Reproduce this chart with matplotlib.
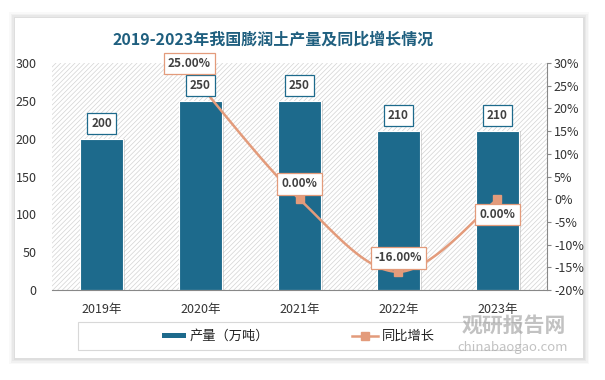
import matplotlib
matplotlib.use("Agg")
import matplotlib.pyplot as plt
import numpy as np
from matplotlib.patches import Rectangle
from matplotlib.lines import Line2D

plt.rcParams['font.family'] = ['Noto Sans CJK SC', 'DejaVu Sans']
plt.rcParams['hatch.linewidth'] = 0.5

years = ["2019年", "2020年", "2021年", "2022年", "2023年"]
output = [200, 250, 250, 210, 210]
growth = [None, 25.0, 0.0, -16.0, 0.0]
growth_labels = [None, "25.00%", "0.00%", "-16.00%", "0.00%"]
left_ticks = [0, 50, 100, 150, 200, 250, 300]
right_ticks = [-20, -15, -10, -5, 0, 5, 10, 15, 20, 25, 30]

BAR = "#1D6A8C"
LINE = "#E39B7B"
W, H = 605, 380

fig = plt.figure(figsize=(6.05, 3.8), dpi=100)
fig.patch.set_facecolor("white")

# card with soft shadow
for i, a in enumerate([0.025, 0.03, 0.035, 0.04]):
    d = 6 - i * 1.5
    fig.patches.append(Rectangle(((15 - d) / W, 1 - (358 + d) / H), (568 + 2 * d) / W, (340 + 2 * d) / H,
                                 transform=fig.transFigure, facecolor="black", alpha=a, edgecolor="none",
                                 zorder=-3))
fig.patches.append(Rectangle((15 / W, 1 - 358 / H), 568 / W, 340 / H, transform=fig.transFigure,
                             facecolor="white", edgecolor="none", zorder=-2))

ax = fig.add_axes([52 / W, 1 - 290 / H, (547 - 52) / W, (290 - 63) / H])
ax.set_facecolor("none")
x = np.arange(len(years))
ax.set_xlim(-0.5, len(years) - 0.5)
ax.set_ylim(0, 300)

# hatched background
ax.add_patch(Rectangle((0, 0), 1, 1, transform=ax.transAxes, facecolor="white",
                       edgecolor="#D3D3D3", hatch="///////", linewidth=0, zorder=0))

# bar shadow + bars
ax.bar(x + 0.02, output, width=0.43, color="#B0B0B0", alpha=0.5, zorder=1)
ax.bar(x, output, width=0.43, color=BAR, edgecolor="white", linewidth=0.8, zorder=2)

ax.set_yticks(left_ticks)
ax.set_xticks(x)
ax.set_xticklabels(years, fontsize=9, color="#333333")
ax.tick_params(axis="x", length=0, pad=9)
ax.tick_params(axis="y", length=0, labelsize=9, colors="#333333", pad=11)
for s in ["top", "right", "left"]:
    ax.spines[s].set_visible(False)
ax.spines["bottom"].set_color("#888888")

ax2 = ax.twinx()
ax2.set_ylim(-20, 30)
ax2.set_yticks(right_ticks)
ax2.set_yticklabels([f"{t}%" for t in right_ticks])
ax2.tick_params(axis="y", length=3, labelsize=9, colors="#333333", color="#888888", pad=2)
for s in ["top", "left", "bottom"]:
    ax2.spines[s].set_visible(False)
ax2.spines["right"].set_color("#888888")

# smooth growth line (Catmull-Rom through the data points)
gx = np.array([xi for xi, g in zip(x, growth) if g is not None], dtype=float)
gy = np.array([g for g in growth if g is not None], dtype=float)
px = np.concatenate([[gx[0]], gx, [gx[-1]]])
py = np.concatenate([[gy[0]], gy, [gy[-1]]])
sx, sy = [], []
t = np.linspace(0, 1, 40)
for i in range(1, len(px) - 2):
    p0, p1, p2, p3 = [np.array([px[j], py[j]]) for j in (i - 1, i, i + 1, i + 2)]
    c1 = p1 + (p2 - p0) / 6
    c2 = p2 - (p3 - p1) / 6
    for tt in t:
        b = (1 - tt) ** 3 * p1 + 3 * (1 - tt) ** 2 * tt * c1 + 3 * (1 - tt) * tt ** 2 * c2 + tt ** 3 * p2
        sx.append(b[0]); sy.append(b[1])
ax2.plot(sx, sy, color=LINE, lw=1.8, zorder=3)
ax2.plot(gx, gy, ls="none", marker="s", ms=6, color=LINE, zorder=4)

# bar value labels (drawn on the top axes so they sit above the line)
for xi, v in zip(x, output):
    ax2.annotate(str(v), (xi, v), xycoords=ax.transData, xytext=(0, 11), textcoords="offset points",
                 ha="center", va="center", fontsize=8.5, fontweight="bold", color="#404040", zorder=6,
                 bbox=dict(boxstyle="square,pad=0.35", fc="white", ec=BAR, lw=0.9))

offsets = [None, (-8, 16), (0, 11), (0, 10), (0, -11)]
for xi, g, lab, off in zip(x, growth, growth_labels, offsets):
    if g is None:
        continue
    ax2.annotate(lab, (xi, g), xytext=off, textcoords="offset points", ha="center", va="center",
                 fontsize=8.5, fontweight="bold", color="#404040", zorder=7,
                 bbox=dict(boxstyle="square,pad=0.35", fc="white", ec=LINE, lw=0.9))

# title
fig.text(273 / W, 1 - 40 / H, "2019-2023年我国膨润土产量及同比增长情况", ha="center", va="center",
         fontsize=11.5, fontweight="bold", color="#1F5F7F")

# legend box
fig.patches.append(Rectangle((78 / W, 1 - 350 / H), (520 - 78) / W, 28 / H, transform=fig.transFigure,
                             facecolor="none", edgecolor="#D8D8D8", lw=0.8, zorder=2))
fig.patches.append(Rectangle((162 / W, 1 - 338 / H), 24 / W, 5 / H, transform=fig.transFigure,
                             facecolor=BAR, edgecolor="none", zorder=3))
fig.text(190 / W, 1 - 336 / H, "产量（万吨）", fontsize=9.5, va="center", color="#222222")
fig.lines.append(Line2D([352 / W, 378 / W], [1 - 336 / H] * 2, transform=fig.transFigure, color=LINE, lw=1.8))
fig.lines.append(Line2D([365 / W], [1 - 336 / H], transform=fig.transFigure, color=LINE, marker="s", ms=6))
fig.text(382 / W, 1 - 336 / H, "同比增长", fontsize=9.5, va="center", color="#222222")

# watermark
fig.text(566 / W, 1 - 325 / H, "观研报告网", fontsize=15, fontweight="bold", ha="right", va="center",
         color="#9A9A9A", alpha=0.6)
fig.text(568 / W, 1 - 347 / H, "chinabaogao.com", fontsize=9.5, ha="right", va="center",
         color="#9A9A9A", alpha=0.6)

fig.savefig("out.png", dpi=100, facecolor="white")
